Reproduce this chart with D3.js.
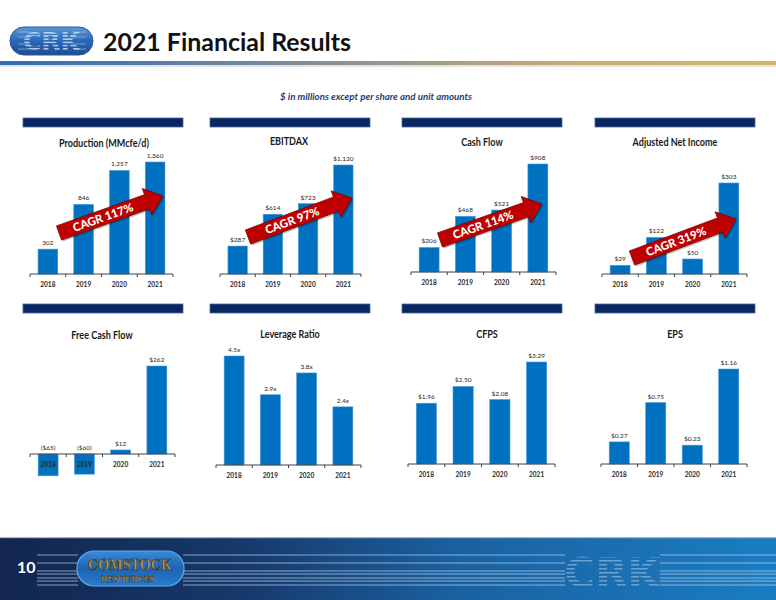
<!DOCTYPE html>
<html><head><meta charset="utf-8">
<script src="https://cdn.jsdelivr.net/npm/d3@7"></script>
<style>
html,body{margin:0;padding:0;background:#fff;}
svg{display:block;font-family:Lato,"Open Sans",sans-serif;}
</style></head>
<body><svg id="c" width="776" height="600"></svg>
<script>
// ---------------- DATA ----------------
const years = ["2018", "2019", "2020", "2021"];
const production = [302, 846, 1257, 1360];
const ebitdax = [287, 614, 723, 1120];
const cashFlow = [206, 468, 521, 908];
const adjNetIncome = [29, 122, 50, 303];
const freeCashFlow = [-65, -60, 12, 262];
const leverageRatio = [4.5, 2.9, 3.8, 2.4];
const cfps = [1.96, 2.50, 2.08, 3.29];
const eps = [0.27, 0.75, 0.23, 1.16];
const chartTitles = ["Production (MMcfe/d)", "EBITDAX", "Cash Flow", "Adjusted Net Income",
                     "Free Cash Flow", "Leverage Ratio", "CFPS", "EPS"];
const cagrLabels = ["CAGR 117%", "CAGR 97%", "CAGR 114%", "CAGR 319%"];
const titleText = "2021 Financial Results";
const subtitleText = "$ in millions except per share and unit amounts";
const pageNumber = "10";

// ---------------- FORMATS ----------------
const fComma = d3.format(",");
const fmtPlain = v => fComma(v);
const fmtDollar = v => v < 0 ? "($" + fComma(-v) + ")" : "$" + fComma(v);
const fmtX = v => d3.format(".1f")(v) + "x";
const fmt2 = v => "$" + d3.format(".2f")(v);

// ---------------- LAYOUT ----------------
const panels = [
  {values: production,   fmt: fmtPlain,  ax:[30,173],  base:274, top:162, tcx:104, ty:147},
  {values: ebitdax,      fmt: fmtDollar, ax:[220,361], base:274, top:165, tcx:289, ty:145},
  {values: cashFlow,     fmt: fmtDollar, ax:[411,556], base:272, top:164, tcx:482, ty:146},
  {values: adjNetIncome, fmt: fmtDollar, ax:[602,747], base:274, top:183, tcx:675, ty:146},
  {values: freeCashFlow, fmt: fmtDollar, ax:[30,175],  base:454, top:366, tcx:102, ty:339},
  {values: leverageRatio,fmt: fmtX,      ax:[216,361], base:465, top:356, tcx:290, ty:338},
  {values: cfps,         fmt: fmt2,      ax:[408,555], base:464, top:362, tcx:487, ty:338},
  {values: eps,          fmt: fmt2,      ax:[601,747], base:464, top:369, tcx:675, ty:338}
];
const navX = [[23,183],[210,370],[402,562],[595,755]];
const navY = [118, 304];
const arrows = [
  {tail:[59,233],  tip:[163,196]},
  {tail:[248,237], tip:[352,198]},
  {tail:[440,240], tip:[542,204]},
  {tail:[632,258], tip:[736,219]}
];

const svg = d3.select("#c");
const defs = svg.append("defs");

// ---------------- HEADER ----------------
const g1 = defs.append("linearGradient").attr("id","rule").attr("x1",0).attr("x2",1);
g1.append("stop").attr("offset",0).attr("stop-color","#2f6db4");
g1.append("stop").attr("offset",0.22).attr("stop-color","#5a7fa8");
g1.append("stop").attr("offset",0.5).attr("stop-color","#9a968e");
g1.append("stop").attr("offset",0.75).attr("stop-color","#c9ad72");
g1.append("stop").attr("offset",1).attr("stop-color","#d6b46e");
svg.append("rect").attr("x",0).attr("y",64).attr("width",776).attr("height",3).attr("fill","#e3e3e3");
svg.append("rect").attr("x",0).attr("y",61).attr("width",776).attr("height",4).attr("fill","url(#rule)");

// header logo
const lg = defs.append("linearGradient").attr("id","logoG").attr("x1",0).attr("y1",0).attr("x2",0).attr("y2",1);
lg.append("stop").attr("offset",0).attr("stop-color","#5c98d8");
lg.append("stop").attr("offset",0.5).attr("stop-color","#2a68b6");
lg.append("stop").attr("offset",1).attr("stop-color","#1d4d92");
svg.append("rect").attr("x",10).attr("y",27).attr("width",83).attr("height",28).attr("rx",14)
  .attr("fill","url(#logoG)").attr("stroke","#2a5a9a").attr("stroke-width",1);
const stripe = defs.append("pattern").attr("id","stripes").attr("patternUnits","userSpaceOnUse")
  .attr("width",4).attr("height",3.2);
stripe.append("rect").attr("width",4).attr("height",1.6).attr("fill","rgba(220,235,255,0.75)");
svg.append("text").attr("x",51.5).attr("y",50).attr("text-anchor","middle")
  .attr("font-size",25).attr("font-weight",900).attr("font-family","'DejaVu Sans'")
  .attr("fill","url(#stripes)").text("CRK");
[32,37,44,49].forEach(y=>{
  svg.append("line").attr("x1",18).attr("x2",30).attr("y1",y).attr("y2",y).attr("stroke","rgba(200,220,245,0.5)");
  svg.append("line").attr("x1",73).attr("x2",86).attr("y1",y).attr("y2",y).attr("stroke","rgba(200,220,245,0.5)");
});

svg.append("text").attr("x",103).attr("y",51).attr("font-size",25).attr("font-weight",700)
  .attr("fill","#111").attr("textLength",248).attr("lengthAdjust","spacingAndGlyphs").text(titleText);

svg.append("text").attr("x",376).attr("y",100).attr("text-anchor","middle")
  .attr("font-size",9.5).attr("font-style","italic").attr("font-weight",700)
  .attr("fill","#1f3f73").attr("textLength",192).attr("lengthAdjust","spacingAndGlyphs").text(subtitleText);

// nav bars
navY.forEach(y => navX.forEach(([a,b]) => {
  svg.append("rect").attr("x",a).attr("y",y).attr("width",b-a).attr("height",9)
    .attr("fill","#0b2462").attr("stroke","#4c6a9c").attr("stroke-width",0.8);
}));

// ---------------- CHARTS ----------------
panels.forEach((p, i) => {
  const g = svg.append("g");
  const x = d3.scaleBand().domain(years).range(p.ax).paddingInner(0.45).paddingOuter(0.225);
  const vmax = d3.max(p.values);
  const y = d3.scaleLinear().domain([0, vmax]).range([p.base, p.top]);

  const t = g.append("text").attr("x",p.tcx).attr("y",p.ty).attr("text-anchor","middle")
    .attr("font-size",10.5).attr("font-weight",700).attr("fill","#1a1a1a").text(chartTitles[i]);
  const tl = t.node().getComputedTextLength();
  t.attr("textLength", tl*0.86).attr("lengthAdjust","spacingAndGlyphs");

  g.selectAll("rect.bar").data(p.values).join("rect").attr("class","bar")
    .attr("x",(d,j)=>x(years[j])).attr("width",x.bandwidth())
    .attr("y",d=>Math.min(y(d),y(0))).attr("height",d=>Math.abs(y(d)-y(0)))
    .attr("fill","#0070c0").attr("stroke","#4a9ad8").attr("stroke-width",0.6);

  g.selectAll("text.lab").data(p.values).join("text").attr("class","lab")
    .attr("x",(d,j)=>x(years[j])+x.bandwidth()/2)
    .attr("y",d=>Math.min(y(d),y(0))-4)
    .attr("text-anchor","middle").attr("font-size",6.5).attr("fill","#262626").text(d=>p.fmt(d));

  // axis
  const axis = d3.axisBottom(x).tickSize(0).tickPadding(8);
  const ag = g.append("g").attr("transform",`translate(0,${p.base})`).call(axis);
  ag.select(".domain").attr("stroke","#404040").attr("stroke-width",1).attr("d",`M${p.ax[0]},0H${p.ax[1]}`);
  ag.selectAll("text").attr("font-size",6.5).attr("font-weight",700).attr("fill","#262626")
    .attr("font-family","Lato,sans-serif");
  const step = x.step();
  d3.range(years.length+1).forEach(k=>{
    ag.append("line").attr("x1",p.ax[0]+k*step).attr("x2",p.ax[0]+k*step).attr("y1",0).attr("y2",3)
      .attr("stroke","#404040").attr("stroke-width",1);
  });

  // CAGR arrow
  if (i < 4) {
    const a = arrows[i];
    const dx = a.tip[0]-a.tail[0], dy = a.tip[1]-a.tail[1];
    const L = Math.hypot(dx,dy), ux = dx/L, uy = dy/L, nx = -uy, ny = ux;
    const h = 7.5, hw = 14, hl = 17;
    const nk = [a.tip[0]-ux*hl, a.tip[1]-uy*hl];
    const pt = (b,s)=>[b[0]+nx*s, b[1]+ny*s];
    const poly = [pt(a.tail,h), pt(nk,h), pt(nk,hw), a.tip, pt(nk,-hw), pt(nk,-h), pt(a.tail,-h)];
    g.append("polygon").attr("points",poly.map(q=>q.join(",")).join(" "))
      .attr("transform","translate(1.5,1.5)").attr("fill","rgba(0,0,0,0.25)");
    g.append("polygon").attr("points",poly.map(q=>q.join(",")).join(" "))
      .attr("fill","#be0000").attr("stroke","#7a0000").attr("stroke-width",0.8);
    const ang = Math.atan2(dy,dx)*180/Math.PI;
    const cx = (a.tail[0]+nk[0])/2, cy = (a.tail[1]+nk[1])/2;
    g.append("text").attr("transform",`translate(${cx},${cy}) rotate(${ang})`)
      .attr("text-anchor","middle").attr("dy","0.36em").attr("font-size",11.5).attr("font-weight",900)
      .attr("fill","#fff").text(cagrLabels[i]);
  }
});

// ---------------- FOOTER ----------------
const fg = defs.append("linearGradient").attr("id","foot").attr("x1",0).attr("x2",1);
fg.append("stop").attr("offset",0).attr("stop-color","#12264f");
fg.append("stop").attr("offset",0.3).attr("stop-color","#16386a");
fg.append("stop").attr("offset",0.6).attr("stop-color","#1a62a2");
fg.append("stop").attr("offset",1).attr("stop-color","#1a7dc2");
svg.append("rect").attr("x",0).attr("y",538).attr("width",776).attr("height",62).attr("fill","url(#foot)");
svg.append("rect").attr("x",0).attr("y",537).attr("width",776).attr("height",1.2).attr("fill","#a8b4c4");

const lineYs = [555, 563, 571, 574, 578, 581, 585];
const segs = [[37,78],[183,565],[660,776]];
lineYs.forEach(yv => segs.forEach(([a,b]) => {
  svg.append("line").attr("x1",a).attr("x2",b).attr("y1",yv).attr("y2",yv)
    .attr("stroke","rgba(190,210,235,0.7)").attr("stroke-width",1);
}));

svg.append("text").attr("x",17).attr("y",573).attr("font-size",16).attr("font-weight",700)
  .attr("fill","#fff").text(pageNumber);

// Comstock logo
const cg = defs.append("linearGradient").attr("id","cg").attr("x1",0).attr("y1",0).attr("x2",0).attr("y2",1);
cg.append("stop").attr("offset",0).attr("stop-color","#3a8ad8");
cg.append("stop").attr("offset",0.5).attr("stop-color","#1c64b4");
cg.append("stop").attr("offset",1).attr("stop-color","#2a7ccc");
svg.append("rect").attr("x",77).attr("y",551).attr("width",107).attr("height",35).attr("rx",17)
  .attr("fill","url(#cg)").attr("stroke","#5aaaf0").attr("stroke-width",1.2);
svg.append("text").attr("x",130).attr("y",570).attr("text-anchor","middle")
  .attr("font-family","'Liberation Serif',serif").attr("font-weight",700).attr("font-size",17)
  .attr("fill","#c49a4c").attr("stroke","#3a2a10").attr("stroke-width",0.6)
  .attr("textLength",84).attr("lengthAdjust","spacingAndGlyphs").text("COMSTOCK");
svg.append("text").attr("x",128).attr("y",582).attr("text-anchor","middle")
  .attr("font-family","'Liberation Serif',serif").attr("font-weight",700).attr("font-size",7.5)
  .attr("fill","#c49a4c").attr("stroke","#3a2a10").attr("stroke-width",0.3)
  .attr("textLength",54).attr("lengthAdjust","spacingAndGlyphs").text("RESOURCES");

// faint CRK mark at right
const st2 = defs.append("pattern").attr("id","stripes2").attr("patternUnits","userSpaceOnUse")
  .attr("width",4).attr("height",4);
st2.append("rect").attr("width",4).attr("height",1.5).attr("fill","rgba(170,205,240,0.55)");
svg.append("text").attr("x",612).attr("y",587).attr("text-anchor","middle")
  .attr("font-size",40).attr("font-weight",900).attr("font-family","'DejaVu Sans'")
  .attr("textLength",96).attr("lengthAdjust","spacingAndGlyphs")
  .attr("fill","url(#stripes2)").text("CRK");
</script></body></html>
